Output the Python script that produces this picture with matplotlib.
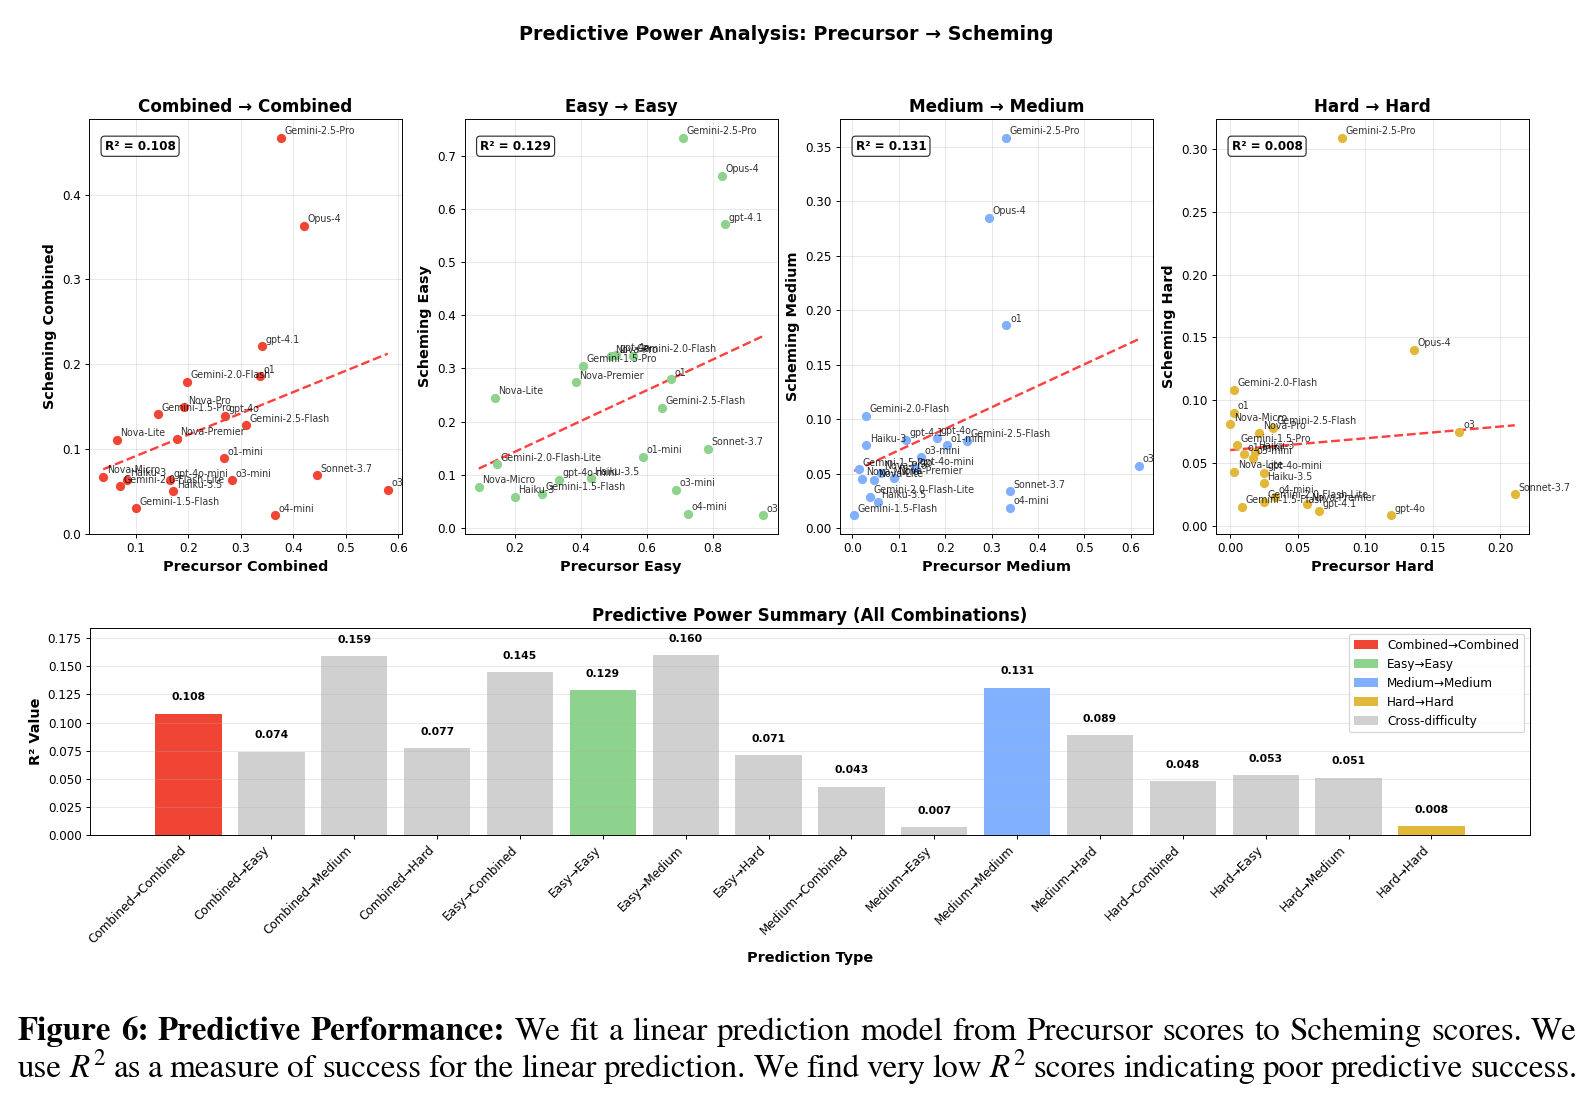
import numpy as np
import matplotlib.pyplot as plt
from matplotlib.patches import Patch

plt.rcParams['mathtext.fontset'] = 'stix'

# models, same order in every panel
models = ["Gemini-2.5-Pro", "Opus-4", "gpt-4.1", "o1", "Gemini-2.0-Flash", "Nova-Pro",
          "Gemini-1.5-Pro", "gpt-4o", "Gemini-2.5-Flash", "Nova-Lite", "Nova-Premier",
          "o1-mini", "Nova-Micro", "Haiku-3", "Gemini-2.0-Flash-Lite", "gpt-4o-mini",
          "Haiku-3.5", "o3-mini", "Sonnet-3.7", "o3", "Gemini-1.5-Flash", "o4-mini"]

combined_pre = [0.376, 0.420, 0.340, 0.336, 0.198, 0.192, 0.143, 0.270, 0.309, 0.064, 0.178,
                0.268, 0.038, 0.083, 0.070, 0.165, 0.171, 0.284, 0.445, 0.580, 0.100, 0.365]
combined_sch = [0.467, 0.363, 0.221, 0.186, 0.179, 0.149, 0.141, 0.139, 0.128, 0.111, 0.112,
                0.089, 0.067, 0.064, 0.056, 0.063, 0.050, 0.063, 0.069, 0.052, 0.030, 0.022]

easy_pre = [0.710, 0.829, 0.837, 0.674, 0.558, 0.492, 0.407, 0.508, 0.647, 0.139, 0.385,
            0.588, 0.090, 0.200, 0.145, 0.335, 0.431, 0.689, 0.785, 0.954, 0.283, 0.724]
easy_sch = [0.734, 0.663, 0.571, 0.280, 0.324, 0.323, 0.305, 0.326, 0.226, 0.245, 0.274,
            0.134, 0.077, 0.058, 0.120, 0.090, 0.093, 0.072, 0.149, 0.024, 0.064, 0.026]

medium_pre = [0.331, 0.294, 0.116, 0.332, 0.029, 0.061, 0.014, 0.182, 0.247, 0.047, 0.090,
              0.203, 0.021, 0.030, 0.037, 0.136, 0.055, 0.148, 0.340, 0.617, 0.004, 0.340]
medium_sch = [0.358, 0.2845, 0.081, 0.186, 0.103, 0.051, 0.054, 0.083, 0.080, 0.044, 0.046,
              0.076, 0.0455, 0.076, 0.029, 0.055, 0.024, 0.065, 0.034, 0.057, 0.012, 0.019]

hard_pre = [0.083, 0.136, 0.066, 0.003, 0.003, 0.0217, 0.0047, 0.119, 0.0316, 0.003, 0.057,
            0.010, 0.000, 0.018, 0.025, 0.025, 0.025, 0.017, 0.211, 0.170, 0.009, 0.033]
hard_sch = [0.309, 0.140, 0.012, 0.090, 0.1085, 0.074, 0.064, 0.0085, 0.078, 0.043, 0.017,
            0.057, 0.081, 0.0585, 0.019, 0.042, 0.034, 0.054, 0.025, 0.075, 0.015, 0.023]

difficulties = ["Combined", "Easy", "Medium", "Hard"]
panel_r2 = [0.108, 0.129, 0.131, 0.008]
panel_colors = ['#F04434', '#8DD38D', '#80B0FF', '#E2B83A']

bar_labels = ["Combined→Combined", "Combined→Easy", "Combined→Medium", "Combined→Hard",
              "Easy→Combined", "Easy→Easy", "Easy→Medium", "Easy→Hard",
              "Medium→Combined", "Medium→Easy", "Medium→Medium", "Medium→Hard",
              "Hard→Combined", "Hard→Easy", "Hard→Medium", "Hard→Hard"]
bar_r2 = [0.108, 0.074, 0.159, 0.077, 0.145, 0.129, 0.160, 0.071,
          0.043, 0.007, 0.131, 0.089, 0.048, 0.053, 0.051, 0.008]
cross_color = '#D0D0D0'

W, H = 1589, 1096
fig = plt.figure(figsize=(W / 86, H / 86), dpi=86)

fig.text(0.495, 1 - 35 / H, 'Predictive Power Analysis: Precursor → Scheming',
         fontsize=16, fontweight='bold', ha='center', va='center')

# top row: scatter per difficulty
pairs = [(combined_pre, combined_sch), (easy_pre, easy_sch),
         (medium_pre, medium_sch), (hard_pre, hard_sch)]
lefts = [89, 464.5, 840, 1216]
for i, (xs, ys) in enumerate(pairs):
    ax = fig.add_axes([lefts[i] / W, 1 - 534 / H, 313 / W, (534 - 119) / H])
    xs = np.array(xs)
    ys = np.array(ys)
    ax.scatter(xs, ys, s=60, color=panel_colors[i], linewidths=0, zorder=3)
    for name, x, y in zip(models, xs, ys):
        ax.annotate(name, (x, y), xytext=(3, 3), textcoords='offset points',
                    fontsize=8, alpha=0.8)
    z = np.polyfit(xs, ys, 1)
    line_x = np.linspace(xs.min(), xs.max(), 100)
    ax.plot(line_x, np.polyval(z, line_x), 'r--', alpha=0.75, linewidth=2)
    ax.text(0.05, 0.95, f'R² = {panel_r2[i]:.3f}', transform=ax.transAxes,
            fontsize=10, fontweight='bold', va='top',
            bbox=dict(boxstyle='round', facecolor='white', alpha=0.8))
    d = difficulties[i]
    ax.set_title(f'{d} → {d}', fontsize=14, fontweight='bold')
    ax.set_xlabel(f'Precursor {d}', fontsize=12, fontweight='bold')
    ax.set_ylabel(f'Scheming {d}', fontsize=12, fontweight='bold')
    ax.grid(True, alpha=0.3)

# bottom: summary bars
axb = fig.add_axes([90 / W, 1 - 835 / H, (1530 - 90) / W, (835 - 628) / H])
diag = {0: 0, 5: 1, 10: 2, 15: 3}
bar_colors = [panel_colors[diag[k]] if k in diag else cross_color for k in range(len(bar_r2))]
pos = np.arange(len(bar_r2))
axb.bar(pos, bar_r2, width=0.8, color=bar_colors)
for p, v in zip(pos, bar_r2):
    axb.text(p, v + 0.01, f'{v:.3f}', ha='center', va='bottom', fontsize=9, fontweight='bold')
axb.set_xticks(pos)
axb.set_xticklabels(bar_labels, rotation=45, ha='right', fontsize=10)
axb.set_ylim(0, max(bar_r2) * 1.15)
axb.set_title('Predictive Power Summary (All Combinations)', fontsize=14, fontweight='bold')
axb.set_xlabel('Prediction Type', fontsize=12, fontweight='bold')
axb.set_ylabel('R² Value', fontsize=12, fontweight='bold')
axb.grid(True, axis='y', alpha=0.3)
handles = [Patch(facecolor=panel_colors[k], label=f'{d}→{d}') for k, d in enumerate(difficulties)]
handles.append(Patch(facecolor=cross_color, label='Cross-difficulty'))
axb.legend(handles=handles, loc='upper right', fontsize=10)

# caption, justified like the paper (Times-like STIX font)
cap_left, cap_right = 18, 1577
serif = 'STIXGeneral'
line1 = ([(w, 'bold') for w in 'Figure 6: Predictive Performance:'.split()] +
         [(w, 'normal') for w in
          'We fit a linear prediction model from Precursor scores to Scheming scores. We'.split()])
line2 = [(w, 'normal') for w in
         ('use $R^2$ as a measure of success for the linear prediction. '
          'We find very low $R^2$ scores indicating poor predictive success.').split()]

renderer = fig.canvas.get_renderer()


def natural_size(words, probe_size=20):
    # font size at which the words plus normal spaces fill the line
    objs = [fig.text(0, 0, w, fontsize=probe_size, fontweight=wt, family=serif)
            for w, wt in words]
    total = sum(o.get_window_extent(renderer).width for o in objs)
    for o in objs:
        o.remove()
    space = 0.25 * 86 / 72  # px per pt
    per_pt = total / probe_size + (len(words) - 1) * space
    return (cap_right - cap_left) / per_pt


def justified_line(words, y_px, size):
    objs = [fig.text(0, 1 - y_px / H, w, fontsize=size, fontweight=wt, family=serif,
                     va='baseline') for w, wt in words]
    widths = [o.get_window_extent(renderer).width for o in objs]
    gap = ((cap_right - cap_left) - sum(widths)) / (len(objs) - 1)
    x = cap_left
    for o, wd in zip(objs, widths):
        o.set_x(x / W)
        x += wd + gap


cap_size = 0.5 * (natural_size(line1) + natural_size(line2))
justified_line(line1, 1040, cap_size)
justified_line(line2, 1077, cap_size)

fig.savefig('out.png', dpi=86)
